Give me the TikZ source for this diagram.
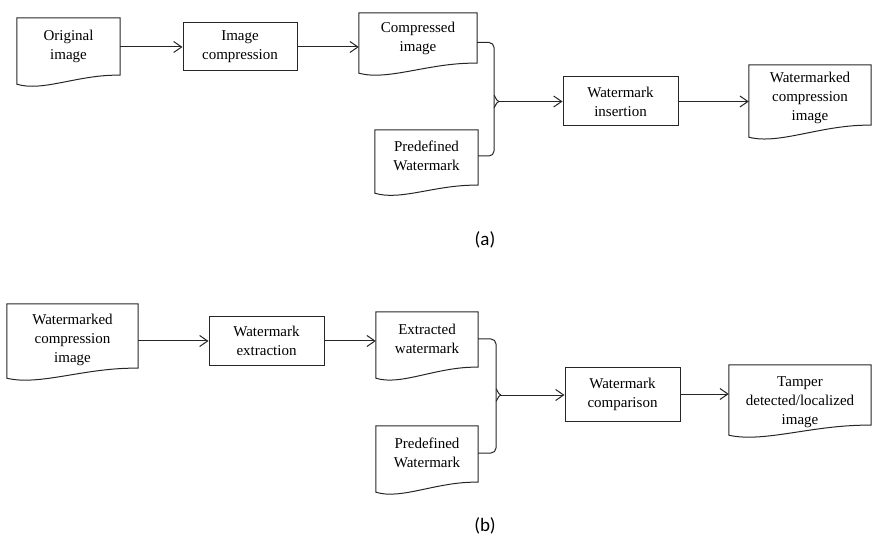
\documentclass[tikz,border=0pt]{standalone}
\usepackage{fontspec}
\setmainfont{Liberation Serif}
\newfontfamily\labfont{Carlito}
\usetikzlibrary{calc,arrows.meta}
\tikzset{
  ln/.style={line width=1pt, draw=black!85},
  procbox/.style={ln, draw, inner sep=0pt, align=center, font=\fontsize{15}{19}\selectfont, text=black},
  docbox/.style={inner sep=0pt, align=center, font=\fontsize{15}{19}\selectfont, text=black},
  arr/.style={ln, -{Straight Barb[length=8pt,width=11pt,line width=1pt]}},
  sublab/.style={font=\labfont\fontsize{19}{22}\selectfont, text=black, inner sep=0pt},
}
\newcommand{\docoutline}[3]{%
  \path ($(#1.north west)+(0,#2)$) coordinate (#1-a)
        ($(#1.north east)+(0,#2)$) coordinate (#1-b)
        ($(#1.south east)+(0,#2)$) coordinate (#1-c)
        ($(#1.south west)+(0,#2)$) coordinate (#1-d);
  \draw[ln] (#1-a) -- (#1-b) -- (#1-c)
     .. controls ($(#1-c)!0.4!(#1-d)+(0,-1)$) and ($(#1-d)!0.25!(#1-c)+(0,#3+8)$) ..
     ($(#1-d)+(0,#3)$) -- cycle;
}
\begin{document}
\begin{tikzpicture}[x=1pt,y=-1pt]
\useasboundingbox (0,0) rectangle (873,545);
% ---------- (a) ----------
\node[docbox, minimum width=103, minimum height=57] (orig) at (68.5,46.5) {Original\\image};
\node[procbox, minimum width=114, minimum height=48] (imgc) at (240,47) {Image\\compression};
\node[docbox, minimum width=118, minimum height=50] (comp) at (418,38.5) {Compressed\\image};
\node[docbox, minimum width=103, minimum height=55] (pre1) at (426.5,156) {Predefined\\Watermark};
\node[procbox, minimum width=115, minimum height=49] (wins) at (620.5,101.5) {Watermark\\insertion};
\node[docbox, minimum width=122, minimum height=60] (wmc1) at (810,98) {Watermarked\\compression\\image};
\docoutline{orig}{0}{9}
\docoutline{comp}{-0.5}{10}
\docoutline{pre1}{1.5}{8}
\docoutline{wmc1}{-3}{12}

\draw[arr] (orig.east |- imgc.west) -- (imgc.west);
\draw[arr] (imgc.east) -- (imgc.east -| comp.west);
\coordinate (ca) at ($(comp.east)+(0,4)$);
\coordinate (tipa) at (499,101.5);
\draw[ln, rounded corners=5pt] (ca) -| (494,101.5) |- (pre1.east);
\draw[ln] (494,96) to[out=90,in=180] (tipa);
\draw[ln] (494,107) to[out=-90,in=180] (tipa);
\draw[arr] (tipa) -- (tipa -| wins.west);
\draw[arr] (wins.east) -- (wins.east -| wmc1.west);
\node[sublab] (la) at (485,240) {(a)};

% ---------- (b) ----------
\node[docbox, minimum width=131, minimum height=64] (wmc2) at (72.5,340) {Watermarked\\compression\\image};
\node[procbox, minimum width=115, minimum height=48] (wext) at (266.5,341) {Watermark\\extraction};
\node[docbox, minimum width=102, minimum height=55] (extr) at (427,339) {Extracted\\watermark};
\node[docbox, minimum width=102, minimum height=56] (pre2) at (427,453) {Predefined\\Watermark};
\node[procbox, minimum width=115, minimum height=54] (wcmp) at (622.5,394) {Watermark\\comparison};
\node[docbox, minimum width=142, minimum height=60] (tamp) at (800,402) {Tamper\\detected/localized\\image};
\docoutline{wmc2}{-4}{10}
\docoutline{extr}{0.5}{11}
\docoutline{pre2}{1}{10}
\docoutline{tamp}{-7}{10}

\draw[arr] (wmc2.east |- wext.west) -- (wext.west);
\draw[arr] (wext.east) -- (wext.east -| extr.west);
\coordinate (tipb) at (501,395);
\draw[ln, rounded corners=5pt] (extr.east) -| (496,395) |- (pre2.east);
\draw[ln] (496,389.5) to[out=90,in=180] (tipb);
\draw[ln] (496,400.5) to[out=-90,in=180] (tipb);
\draw[arr] (tipb) -- (tipb -| wcmp.west);
\draw[arr] (wcmp.east) -- (wcmp.east -| tamp.west);
\node[sublab] (lb) at (485,526) {(b)};
\end{tikzpicture}
\end{document}
